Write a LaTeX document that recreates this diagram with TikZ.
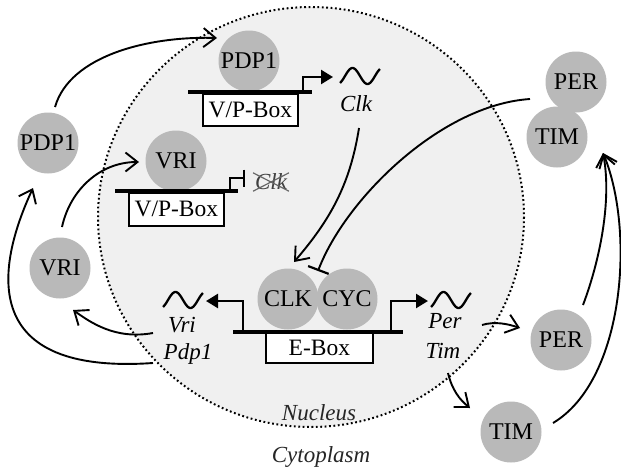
\documentclass[tikz,border=0pt]{standalone}
\usepackage{fontspec}
\setmainfont{Liberation Serif}
\usetikzlibrary{arrows.meta}
\definecolor{protfill}{RGB}{185,185,185}
\definecolor{nucfill}{RGB}{240,240,240}
\tikzset{
  protein/.style={circle,fill=protfill,minimum size=61pt,inner sep=0pt,font=\fontsize{24}{26}\selectfont},
  genebox/.style={draw,fill=white,line width=1.7pt,inner sep=0pt,font=\fontsize{23.5}{25}\selectfont},
  tlabel/.style={inner sep=0pt,font=\fontsize{23}{25}\selectfont\itshape},
  dna/.style={line width=3.2pt},
  promoter/.style={line width=2.4pt,-{Triangle[length=12pt,width=14pt]}},
  repress/.style={line width=2.4pt,-{Bar[width=17pt,line width=2.4pt]}},
  act/.style={line width=1.9pt,-{Straight Barb[length=12pt,width=19pt,line width=1.9pt]}},
  inhib/.style={line width=1.9pt,-{Bar[width=22pt,line width=2.2pt]}},
  wave/.style={line width=2.3pt},
  wavepic/.pic={\draw[wave] plot[domain=-60:420,samples=49] ({(\x-180)/12},{-8*sin(\x)});}
}
\begin{document}
\begin{tikzpicture}[x=1pt,y=-1pt]
\useasboundingbox (0,0) rectangle (621,474);
\fill[white] (0,0) rectangle (621,474);

% nucleus
\draw[fill=nucfill,draw=black,line width=2pt,dash pattern=on 1.8pt off 2.6pt]
  (311,217) ellipse [x radius=213, y radius=210];

% proteins
\node[protein] (pdpT) at (249,61) {PDP1};
\node[protein] (vriN) at (176,161) {VRI};
\node[protein] (clk) at (288,299) {CLK};
\node[protein] (cyc) at (347,299) {CYC};
\node[protein] (pdpL) at (48,143) {PDP1};
\node[protein] (vriL) at (60,268) {VRI};
\node[protein] (perT) at (576,82) {PER};
\node[protein] (timT) at (557,137) {TIM};
\node[protein] (perR) at (561,340) {PER};
\node[protein] (timB) at (511,432) {TIM};

% regulatory boxes
\node[genebox,minimum width=95pt,minimum height=32pt,anchor=north west] (vpT) at (202,93) {V/P-Box};
\node[genebox,minimum width=95pt,minimum height=33pt,anchor=north west] (vpM) at (128,192) {V/P-Box};
\node[genebox,minimum width=107pt,minimum height=30pt,anchor=north west] (ebox) at (265,332) {E-Box};

% DNA strands and promoters
\draw[dna] (188,92) -- (312,92);
\draw[promoter] (303,92) -- (303,77) -- (333,77);
\draw[dna] (115,191) -- (238,191);
\draw[repress] (230,191) -- (230,178) -- (245,178);
\draw[dna] (233,332) -- (403,332);
\draw[promoter] (243,332) -- (243,301) -- (206,301);
\draw[promoter] (391,332) -- (391,301) -- (428,301);

% transcripts
\pic at (360,76) {wavepic};
\pic at (183,300) {wavepic};
\pic at (451,300) {wavepic};

% gene labels
\node[tlabel] (clkT) at (356,104) {Clk};
\node[tlabel,text=black!75] (clkX) at (271,182) {Clk};
\draw[black!60,line width=1.2pt,shorten <=-2pt,shorten >=-2pt]
  (clkX.south west) -- (clkX.north east);
\draw[black!60,line width=1.2pt,shorten <=-2pt,shorten >=-2pt]
  (clkX.north west) -- (clkX.south east);
\node[tlabel] (vriG) at (182,325) {Vri};
\node[tlabel] (pdpG) at (188,354) {Pdp1};
\node[tlabel] (perG) at (445,321) {Per};
\node[tlabel] (timG) at (443,351) {Tim};
\node[tlabel,text=black!85] (nucl) at (319,413) {Nucleus};
\node[tlabel,text=black!85] (cyto) at (321,457) {Cytoplasm};

% connector ends
\coordinate (a1s) at (55,107);   \coordinate (a1e) at (217,38);
\coordinate (a2s) at (62,227);   \coordinate (a2e) at (139,162);
\coordinate (a3s) at (153,363);  \coordinate (a3e) at (33,188);
\coordinate (a4s) at (153,333);  \coordinate (a4e) at (73,310);
\coordinate (a5s) at (359,128);  \coordinate (a5e) at (294,262);
\coordinate (a6s) at (530,99);   \coordinate (a6e) at (318,271);
\coordinate (a7s) at (482,325);  \coordinate (a7e) at (520,328);
\coordinate (a8s) at (448,373);  \coordinate (a8e) at (470,408);
\coordinate (a9s) at (583,305);  \coordinate (a10s) at (553,423);
\coordinate (a9e) at (603,153);

% interactions
\draw[act] (a1s) .. controls (70,55) and (150,36) .. (a1e);
\draw[act] (a2s) .. controls (70,190) and (100,162) .. (a2e);
\draw[act] (a3s) .. controls (-20,375) and (-5,270) .. (a3e);
\draw[act] (a4s) .. controls (115,340) and (90,322) .. (a4e);
\draw[act] (a5s) .. controls (350,185) and (330,220) .. (a5e);
\draw[inhib] (a6s) .. controls (440,105) and (345,200) .. (a6e);
\draw[act] (a7s) .. controls (495,321) and (508,324) .. (a7e);
\draw[act] (a8s) .. controls (452,390) and (460,400) .. (a8e);
\draw[act] (a9s) .. controls (600,260) and (612,200) .. (a9e);
\draw[act] (a10s) .. controls (625,380) and (635,230) .. (a9e);
\end{tikzpicture}
\end{document}
